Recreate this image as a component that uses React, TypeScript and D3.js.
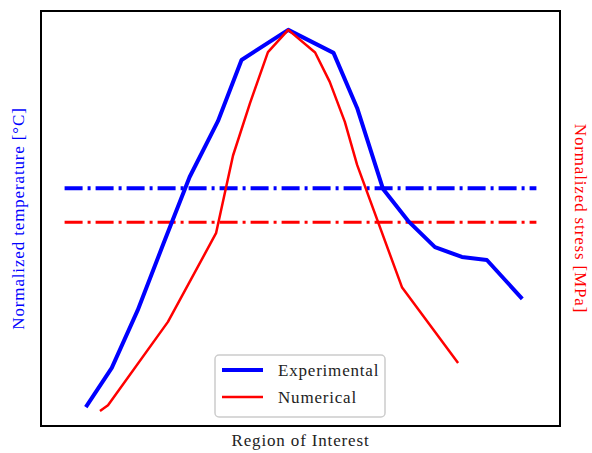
import React, { useRef, useEffect } from 'react';
import * as d3 from 'd3';

// positions along the region (arbitrary 0..100 units)
const experimentalX = [4.5, 10, 15.5, 21, 26.5, 32.5, 37.5, 47.4, 57, 62, 67.5, 73, 78.5, 84.2, 89.5, 97];
const experimentalY = [0, 0.104, 0.257, 0.435, 0.61, 0.758, 0.92, 1.0, 0.939, 0.793, 0.578, 0.491, 0.424, 0.398, 0.39, 0.287];

const numericalX = [7.5, 9.2, 21.9, 32.1, 35.7, 39.3, 43.1, 47.4, 53.1, 56.2, 59.4, 62, 71.5, 83.4];
const numericalY = [-0.01, 0.005, 0.226, 0.461, 0.667, 0.806, 0.941, 1.0, 0.94, 0.862, 0.756, 0.642, 0.318, 0.117];

const refStart = 0;
const refEnd = 100;
const experimentalRef = 0.58;
const numericalRef = 0.49;

const seriesNames = ['Experimental', 'Numerical'];

const W = 592;
const H = 453;
const FONT = '"Liberation Serif", "DejaVu Serif", serif';

const App = () => {
  const svgRef = useRef<SVGSVGElement>(null);

  useEffect(() => {
    document.body.style.margin = '0';
    const svg = d3.select(svgRef.current);
    svg.selectAll('*').remove();

    const left = 41, right = 560, top = 11, bottom = 426;

    const pad = (ext: number[]) => {
      const r = ext[1] - ext[0];
      return [ext[0] - r * 0.05, ext[1] + r * 0.05];
    };

    const xScale = d3.scaleLinear()
      .domain(pad([refStart, refEnd]))
      .range([left, right]);

    // temperature axis autoscaled on the experimental curve, stress shares it
    const yScale = d3.scaleLinear()
      .domain(pad(d3.extent(experimentalY) as number[]))
      .range([bottom, top]);

    svg.append('rect')
      .attr('width', W)
      .attr('height', H)
      .attr('fill', 'white');

    const line = d3.line<[number, number]>()
      .x(d => xScale(d[0]))
      .y(d => yScale(d[1]));

    // reference lines
    svg.append('path')
      .attr('d', line([[refStart, experimentalRef], [refEnd, experimentalRef]]))
      .attr('stroke', '#0000ff')
      .attr('stroke-width', 4)
      .attr('stroke-dasharray', '18,5,3,5')
      .attr('fill', 'none');

    svg.append('path')
      .attr('d', line([[refStart, numericalRef], [refEnd, numericalRef]]))
      .attr('stroke', '#ff0000')
      .attr('stroke-width', 3)
      .attr('stroke-dasharray', '18,5,3,5')
      .attr('fill', 'none');

    svg.append('path')
      .attr('d', line(experimentalX.map((x, i) => [x, experimentalY[i]])))
      .attr('stroke', '#0000ff')
      .attr('stroke-width', 4)
      .attr('stroke-linejoin', 'round')
      .attr('fill', 'none');

    svg.append('path')
      .attr('d', line(numericalX.map((x, i) => [x, numericalY[i]])))
      .attr('stroke', '#ff0000')
      .attr('stroke-width', 2.5)
      .attr('stroke-linejoin', 'round')
      .attr('fill', 'none');

    // frame
    svg.append('rect')
      .attr('x', left)
      .attr('y', top)
      .attr('width', right - left)
      .attr('height', bottom - top)
      .attr('fill', 'none')
      .attr('stroke', '#000')
      .attr('stroke-width', 2);

    // axis labels
    const label = (t: d3.Selection<SVGTextElement, unknown, null, undefined>) =>
      t.attr('text-anchor', 'middle')
        .attr('font-family', FONT)
        .attr('font-size', 17)
        .attr('letter-spacing', 0.85);

    svg.append('text')
      .attr('x', (left + right) / 2)
      .attr('y', 446)
      .call(label)
      .attr('fill', '#222')
      .text('Region of Interest');

    svg.append('text')
      .attr('transform', `translate(24, ${(top + bottom) / 2}) rotate(-90)`)
      .call(label)
      .attr('fill', '#0000ff')
      .text('Normalized temperature [°C]');

    svg.append('text')
      .attr('transform', `translate(575, ${(top + bottom) / 2}) rotate(90)`)
      .call(label)
      .attr('fill', '#ff0000')
      .text('Normalized stress [MPa]');

    // legend
    const lg = svg.append('g').attr('transform', 'translate(215, 355)');
    lg.append('rect')
      .attr('width', 170)
      .attr('height', 62)
      .attr('rx', 4)
      .attr('fill', 'white')
      .attr('fill-opacity', 0.8)
      .attr('stroke', '#cccccc')
      .attr('stroke-width', 1.5);

    const colors = ['#0000ff', '#ff0000'];
    const widths = [4, 2.5];
    seriesNames.forEach((name, i) => {
      const y = 15 + i * 27;
      lg.append('line')
        .attr('x1', 7)
        .attr('x2', 48)
        .attr('y1', y)
        .attr('y2', y)
        .attr('stroke', colors[i])
        .attr('stroke-width', widths[i]);
      lg.append('text')
        .attr('x', 63)
        .attr('y', y + 6)
        .attr('font-family', FONT)
        .attr('font-size', 17)
        .attr('letter-spacing', 0.8)
        .attr('fill', '#222')
        .text(name);
    });
  }, []);

  return <svg ref={svgRef} width={W} height={H} style={{ display: 'block' }}></svg>;
};

export default App;
